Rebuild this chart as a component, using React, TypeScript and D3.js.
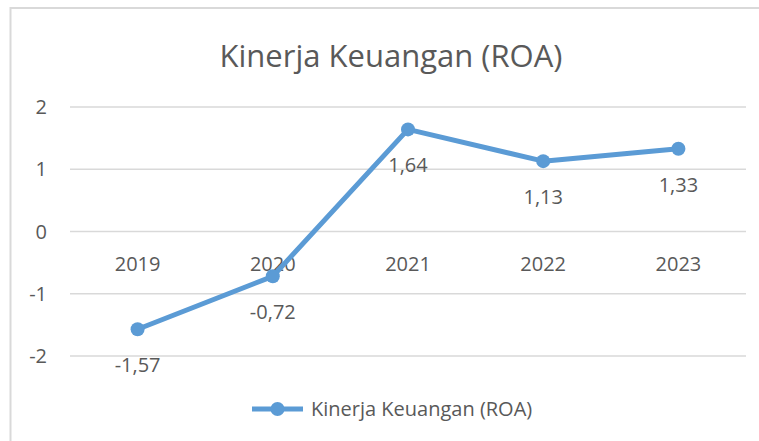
import React from "react";
import * as d3 from "d3";

const categories = ["2019", "2020", "2021", "2022", "2023"];
const roaValues = [-1.57, -0.72, 1.64, 1.13, 1.33];
const yTicks = [-2, -1, 0, 1, 2];
const title = "Kinerja Keuangan (ROA)";
const seriesName = "Kinerja Keuangan (ROA)";

const W = 759;
const H = 441;
const FONT = "'Open Sans', 'Noto Sans', sans-serif";
const TEXT = "#595959";
const LINE = "#5B9BD5";
const GRID = "#D9D9D9";

export default function App() {
  const x = d3.scaleBand<string>().domain(categories).range([70, 746]);
  const y = d3.scaleLinear().domain([-2, 2]).range([356, 107]);
  const cx = (c: string) => (x(c) as number) + x.bandwidth() / 2;
  const line = d3
    .line<number>()
    .x((_, i) => cx(categories[i]))
    .y((d) => y(d));
  const fmt = (v: number) => String(v).replace(".", ",");

  return (
    <svg
      width={W}
      height={H}
      style={{ position: "absolute", left: 0, top: 0, background: "#fff" }}
      fontFamily={FONT}
    >
      <rect x={0} y={0} width={W} height={H} fill="#fff" />
      <path
        d={`M10.5,${H} V8 H${W}`}
        fill="none"
        stroke={GRID}
        strokeWidth={2}
      />
      <text x={391} y={56} dy="0.35em" textAnchor="middle" fontSize={31} fill={TEXT}>
        {title}
      </text>
      {yTicks.map((t) => (
        <g key={t}>
          <line x1={70} x2={746} y1={y(t)} y2={y(t)} stroke={GRID} strokeWidth={1.5} />
          <text
            x={47}
            y={y(t)}
            dy="0.35em"
            textAnchor="end"
            fontSize={20}
            fill={TEXT}
          >
            {t}
          </text>
        </g>
      ))}
      {categories.map((c) => (
        <text
          key={c}
          x={cx(c)}
          y={y(0) + 32}
          dy="0.35em"
          textAnchor="middle"
          fontSize={20}
          fill={TEXT}
        >
          {c}
        </text>
      ))}
      <path d={line(roaValues) || ""} fill="none" stroke={LINE} strokeWidth={5} strokeLinejoin="round" />
      {roaValues.map((v, i) => (
        <circle key={i} cx={cx(categories[i])} cy={y(v)} r={7} fill={LINE} />
      ))}
      {roaValues.map((v, i) => (
        <text
          key={"l" + i}
          x={cx(categories[i])}
          y={y(v) + 36}
          dy="0.35em"
          textAnchor="middle"
          fontSize={20}
          fill={TEXT}
        >
          {fmt(v)}
        </text>
      ))}
      <g>
        <line x1={252} x2={303} y1={409} y2={409} stroke={LINE} strokeWidth={5} />
        <circle cx={277.5} cy={409} r={7} fill={LINE} />
        <text x={311} y={409} dy="0.35em" fontSize={20} fill={TEXT}>
          {seriesName}
        </text>
      </g>
    </svg>
  );
}
